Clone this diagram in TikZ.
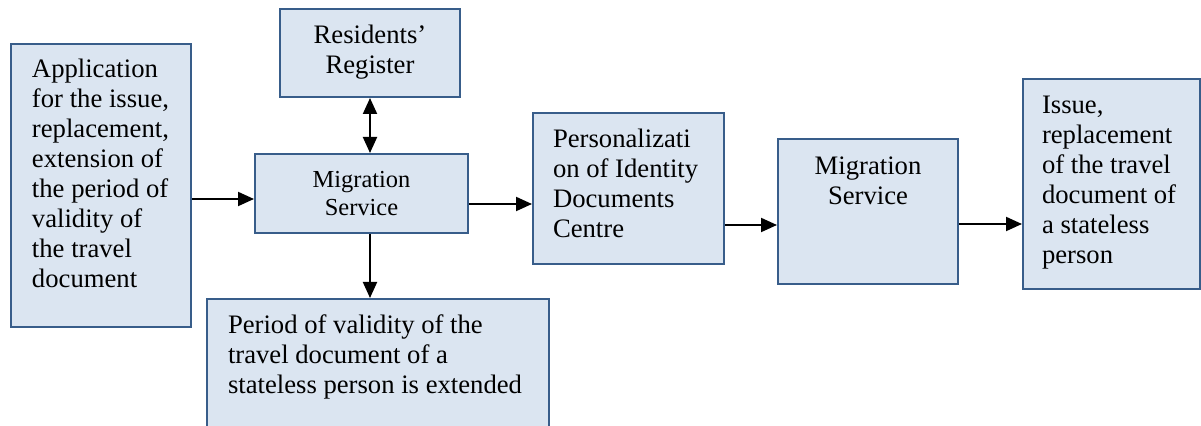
\documentclass[tikz,border=0pt]{standalone}
\usepackage{fontspec}
\setmainfont{Liberation Serif}
\usetikzlibrary{arrows.meta, positioning}
\definecolor{boxfill}{RGB}{219, 229, 241}
\definecolor{boxline}{RGB}{56, 93, 138}
\newlength{\unitpx}
\setlength{\unitpx}{0.45pt}
\tikzset{
    flowtip/.tip={Triangle[length=7.2pt,width=6.3pt]},
    block/.style={draw=boxline, fill=boxfill, line width=0.9pt, anchor=north west,
        inner ysep=0pt, font=\fontsize{12}{13.5}\selectfont},
    flow/.style={-flowtip, line width=0.9pt},
}

\begin{document}
\begin{tikzpicture}[x=\unitpx, y=-\unitpx]
    \clip (0,0) rectangle (1201,426);
    % boxes
    \node[block, align=flush left, inner xsep=21\unitpx, text width=138\unitpx,
        text height=34\unitpx, text depth=249\unitpx] (app) at (10,43)
        {Application\\for the issue,\\replacement,\\extension of\\the period of\\validity of\\the travel\\document};
    \node[block, align=flush center, inner xsep=10\unitpx, text width=160\unitpx,
        text height=35\unitpx, text depth=53\unitpx] (reg) at (279,8)
        {Residents’\\Register};
    \node[block, align=flush center, inner xsep=10\unitpx, text width=193\unitpx,
        text height=34\unitpx, text depth=45\unitpx, font=\fontsize{11}{12.3}\selectfont] (mig) at (254,153)
        {Migration\\Service};
    \node[block, align=flush left, inner xsep=21\unitpx, text width=300\unitpx,
        text height=35\unitpx, text depth=107\unitpx] (period) at (206,298)
        {Period of validity of the\\travel document of a\\stateless person is extended};
    \node[block, align=flush left, inner xsep=20\unitpx, text width=151\unitpx,
        text height=35\unitpx, text depth=116\unitpx] (pidc) at (532,112)
        {Personalizati\\on of Identity\\Documents\\Centre};
    \node[block, align=flush center, inner xsep=10\unitpx, text width=160\unitpx,
        text height=36\unitpx, text depth=109\unitpx] (mig2) at (777,138)
        {Migration\\Service};
    \node[block, align=flush left, inner xsep=19\unitpx, text width=139\unitpx,
        text height=35\unitpx, text depth=175\unitpx] (issue) at (1022,78)
        {Issue,\\replacement\\of the travel\\document of\\a stateless\\person};

    % arrow levels
    \coordinate (in1) at ([yshift=-5.5\unitpx]mig.west);
    \coordinate (out1) at ([yshift=-10.5\unitpx]mig.east);
    \coordinate (in2) at ([yshift=-13.5\unitpx]mig2.west);
    \coordinate (out2) at ([yshift=-12.5\unitpx]mig2.east);

    % connectors
    \draw[flow] (app.east |- in1) -- (in1);
    \draw[flow, flowtip-flowtip] (reg.south) -- (reg.south |- mig.north);
    \draw[flow] (reg.south |- mig.south) -- (reg.south |- period.north);
    \draw[flow] (out1) -- (out1 -| pidc.west);
    \draw[flow] (pidc.east |- in2) -- (in2);
    \draw[flow] (out2) -- (out2 -| issue.west);
\end{tikzpicture}
\end{document}
